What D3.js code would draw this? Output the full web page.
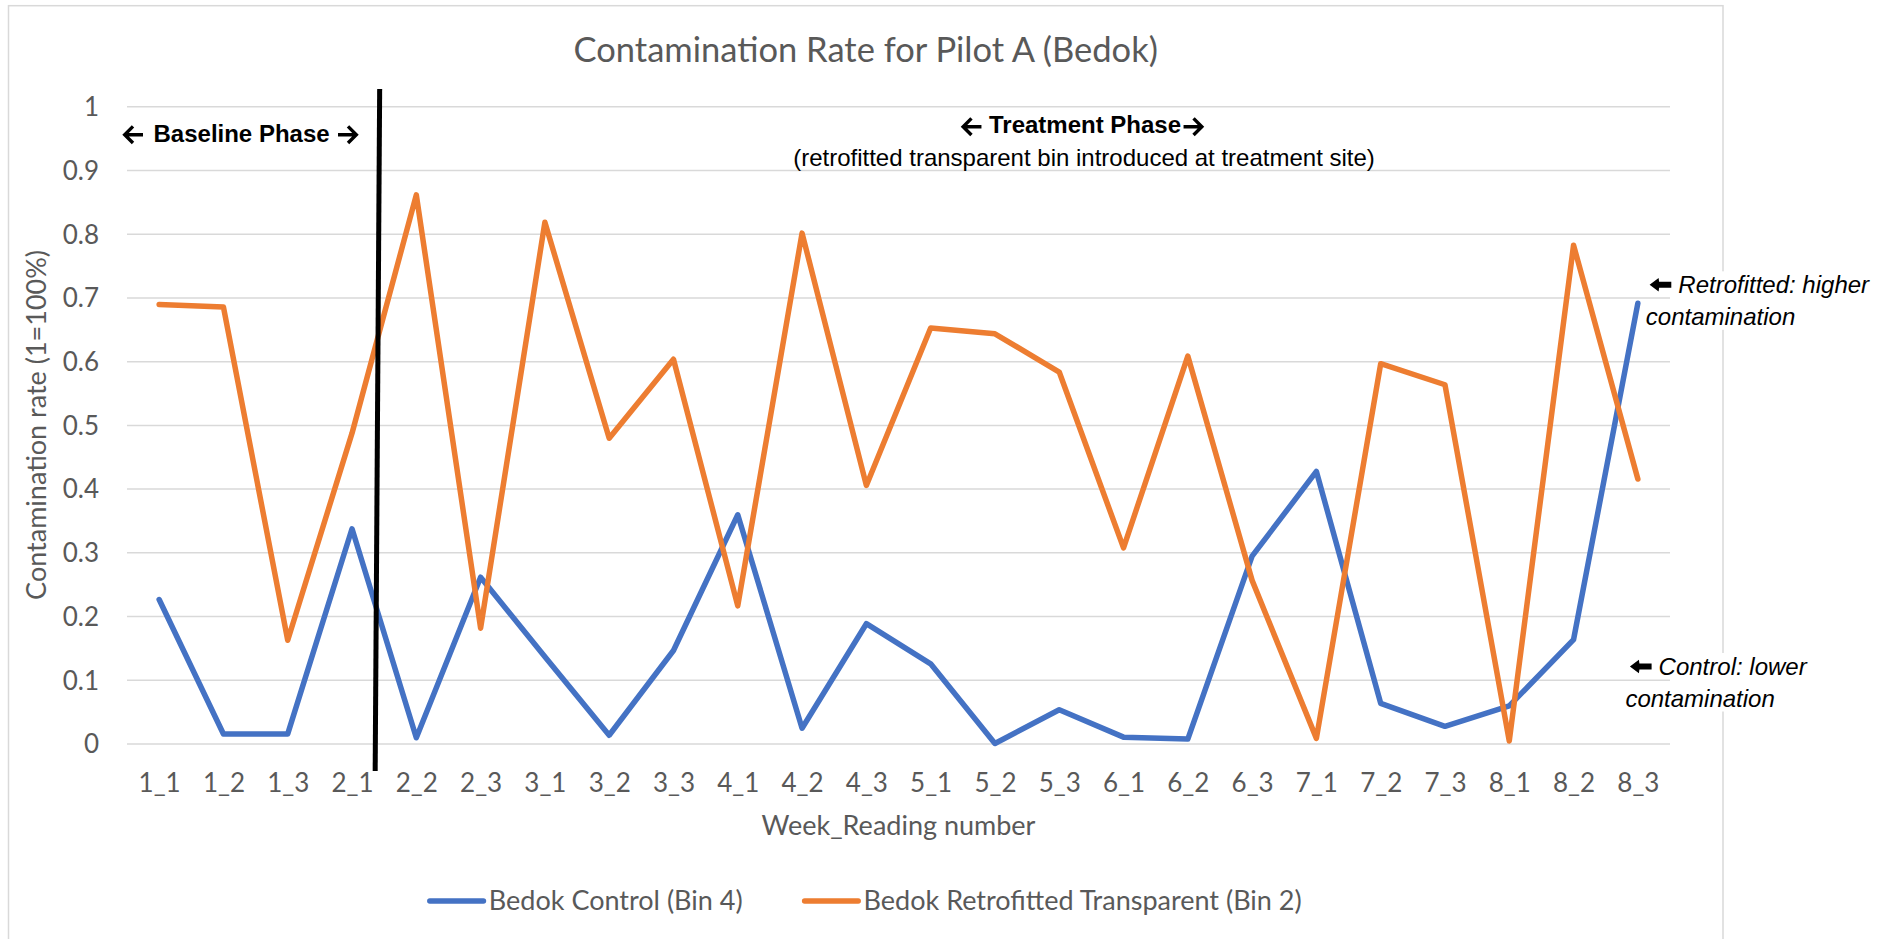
<!DOCTYPE html>
<html>
<head>
<meta charset="utf-8">
<script src="https://cdn.jsdelivr.net/npm/d3@7"></script>
<style>
  body { margin: 0; background: #fff; }
  .calibri { font-family: Lato, "Open Sans", sans-serif; fill: #595959; }
  .arial { font-family: "Liberation Sans", Arial, sans-serif; fill: #000; }
</style>
</head>
<body>
<svg id="chart" width="1892" height="939"></svg>
<script>
// readings, week_reading
const weeks = ['1_1', '1_2', '1_3', '2_1', '2_2', '2_3', '3_1', '3_2', '3_3', '4_1', '4_2', '4_3',
  '5_1', '5_2', '5_3', '6_1', '6_2', '6_3', '7_1', '7_2', '7_3', '8_1', '8_2', '8_3']

const controlRates = [0.226, 0.015, 0.015, 0.337, 0.009, 0.261, 0.136, 0.013, 0.146, 0.359, 0.024, 0.188,
  0.125, 0.0, 0.053, 0.01, 0.007, 0.294, 0.427, 0.063, 0.027, 0.059, 0.163, 0.691]

const retrofitRates = [0.689, 0.685, 0.162, 0.487, 0.861, 0.181, 0.818, 0.479, 0.603, 0.216, 0.801, 0.405,
  0.652, 0.643, 0.583, 0.307, 0.608, 0.256, 0.008, 0.596, 0.563, 0.004, 0.782, 0.415]

const yTicks = [0, 0.1, 0.2, 0.3, 0.4, 0.5, 0.6, 0.7, 0.8, 0.9, 1]

const seriesNames = ['Bedok Control (Bin 4)', 'Bedok Retrofitted Transparent (Bin 2)']
const seriesColors = ['#4472C4', '#ED7D31']

const frame = { left: 8.5, top: 5.7, right: 1723 }
const plot = { left: 127, right: 1670, top: 106.3, bottom: 743.5 }

const svg = d3.select('#chart')

svg.append('rect')
  .attr('x', frame.left).attr('y', frame.top)
  .attr('width', frame.right - frame.left).attr('height', 1000)
  .attr('fill', '#fff').attr('stroke', '#D9D9D9').attr('stroke-width', 1.5)

const x = d3.scalePoint()
  .domain(weeks)
  .range([plot.left, plot.right])
  .padding(0.5)

const y = d3.scaleLinear()
  .domain([0, 1])
  .range([plot.bottom, plot.top])

// gridlines + y labels
const yAxis = svg.append('g')
  .attr('transform', `translate(${plot.left},0)`)
  .call(d3.axisLeft(y)
    .tickValues(yTicks)
    .tickSize(-(plot.right - plot.left))
    .tickPadding(28)
    .tickFormat(d3.format('~g')))
yAxis.select('.domain').remove()
yAxis.selectAll('line').attr('stroke', '#D9D9D9').attr('stroke-width', 1.5)
yAxis.selectAll('text')
  .attr('class', 'calibri')
  .attr('font-size', 26)
  .attr('dy', '0.36em')

// x labels
const xAxis = svg.append('g')
  .attr('transform', `translate(0,${plot.bottom})`)
  .call(d3.axisBottom(x).tickSize(0).tickPadding(30))
xAxis.select('.domain').remove()
xAxis.selectAll('text')
  .attr('class', 'calibri')
  .attr('font-size', 26)

// series
const line = d3.line()
  .x((d, i) => x(weeks[i]))
  .y((d) => y(d))

svg.append('g')
  .selectAll('path')
  .data([controlRates, retrofitRates])
  .join('path')
    .attr('d', line)
    .attr('fill', 'none')
    .attr('stroke', (d, i) => seriesColors[i])
    .attr('stroke-width', 5.5)
    .attr('stroke-linejoin', 'round')
    .attr('stroke-linecap', 'round')

// phase divider between 2_1 and 2_2
const divX = (x('2_1') + x('2_2')) / 2
svg.append('line')
  .attr('x1', divX - 4.5).attr('y1', y(1.027))
  .attr('x2', divX - 9).attr('y2', y(-0.043))
  .attr('stroke', '#000').attr('stroke-width', 5)

// titles
svg.append('text')
  .attr('class', 'calibri')
  .attr('x', (frame.left + frame.right) / 2).attr('y', 61.7)
  .attr('text-anchor', 'middle')
  .attr('font-size', 34.5)
  .text('Contamination Rate for Pilot A (Bedok)')

svg.append('text')
  .attr('class', 'calibri')
  .attr('x', (plot.left + plot.right) / 2).attr('y', 835)
  .attr('text-anchor', 'middle')
  .attr('font-size', 27)
  .text('Week_Reading number')

svg.append('text')
  .attr('class', 'calibri')
  .attr('transform', `translate(46,${(plot.top + plot.bottom) / 2}) rotate(-90)`)
  .attr('text-anchor', 'middle')
  .attr('font-size', 27)
  .text('Contamination rate (1=100%)')

// arrow glyphs (open for phases, filled for side notes)
function openArrow (tipX, cy, dir) {
  const w = 18.3 * dir
  svg.append('path')
    .attr('d', `M${tipX + w},${cy} L${tipX},${cy} M${tipX + 8.3 * dir},${cy - 8.3} L${tipX},${cy} L${tipX + 8.3 * dir},${cy + 8.3}`)
    .attr('fill', 'none').attr('stroke', '#000').attr('stroke-width', 3.4)
    .attr('stroke-linejoin', 'miter').attr('stroke-linecap', 'butt')
}

function filledArrow (tipX, cy) {
  const pts = [[0, 0], [9, -6.8], [9.5, -3], [21.7, -3], [21.7, 3], [9.5, 3], [9, 6.8]]
  svg.append('path')
    .attr('d', d3.line()(pts.map((p) => [tipX + p[0], cy + p[1]])) + 'Z')
    .attr('fill', '#000')
}

// phase labels
function phaseLabel (label, x0, y0, anchor, gapL, gapR, cyOff) {
  const t = svg.append('text')
    .attr('class', 'arial')
    .attr('x', x0).attr('y', y0)
    .attr('text-anchor', anchor)
    .attr('font-size', 24).attr('font-weight', 'bold')
    .text(label)
  const bb = t.node().getBBox()
  const cy = y0 - cyOff
  openArrow(bb.x - gapL - 18.3, cy, 1)
  openArrow(bb.x + bb.width + gapR + 18.3, cy, -1)
}
phaseLabel('Baseline Phase', 153.5, 141.7, 'start', 10.5, 8.4, 7)
phaseLabel('Treatment Phase', 1085, 132.7, 'middle', 7.5, 2.5, 6)

svg.append('text')
  .attr('class', 'arial')
  .attr('x', 1084).attr('y', 165.7)
  .attr('text-anchor', 'middle')
  .attr('font-size', 24)
  .text('(retrofitted transparent bin introduced at treatment site)')

// side notes
function note (first, x1, x2, y0) {
  const g = svg.append('g')
  const bg = g.append('rect').attr('fill', '#fff')
  const t = g.append('text')
    .attr('class', 'arial')
    .attr('font-size', 24)
    .attr('font-style', 'italic')
  t.append('tspan').attr('x', x1).attr('y', y0).text(first)
  t.append('tspan').attr('x', x2).attr('y', y0 + 31.5).text('contamination')
  const bb = t.node().getBBox()
  bg.attr('x', plot.right + 2).attr('y', bb.y)
    .attr('width', bb.x + bb.width - plot.right).attr('height', bb.height)
  filledArrow(x1 - 7 - 21.7, y0 - 8.5)
}

note('Retrofitted: higher', 1678.3, 1645.8, 293.3)
note('Control: lower', 1658.6, 1625.4, 675)

// legend
const legend = svg.append('g').attr('transform', 'translate(0,901)')
const items = legend.selectAll('g')
  .data(seriesNames)
  .join('g')
items.append('line')
  .attr('x1', 0).attr('x2', 53.6)
  .attr('stroke', (d, i) => seriesColors[i])
  .attr('stroke-width', 5.5)
  .attr('stroke-linecap', 'round')
items.append('text')
  .attr('class', 'calibri')
  .attr('x', 59)
  .attr('dy', '0.35em')
  .attr('font-size', 27)
  .text((d) => d)

const widths = []
items.each(function () { widths.push(this.getBBox().width) })
const total = d3.sum(widths) + 62 * (widths.length - 1)
let offset = (frame.left + frame.right) / 2 - total / 2
items.attr('transform', (d, i) => {
  const tx = offset
  offset += widths[i] + 62
  return `translate(${tx},0)`
})
</script>
</body>
</html>
